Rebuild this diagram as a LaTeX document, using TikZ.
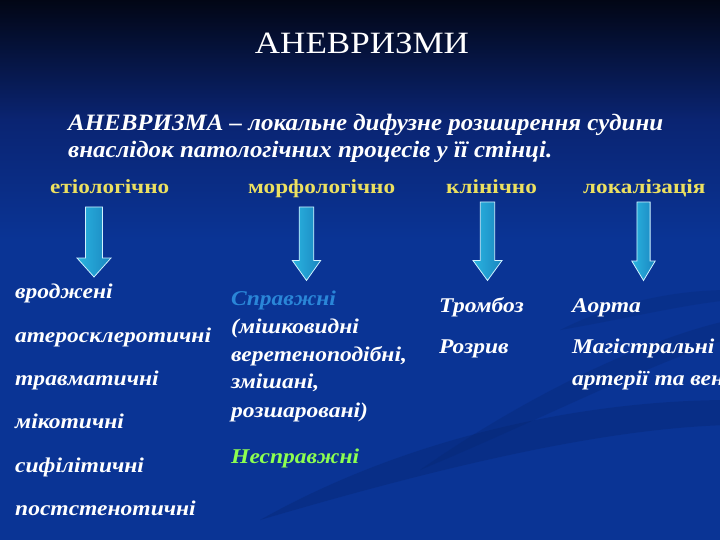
\documentclass[tikz,border=0pt]{standalone}
\usepackage{fontspec}
\setmainfont{Liberation Serif}
\newfontfamily\titlefont{Liberation Serif}[FakeStretch=1.13]
\newfontfamily\deffont{Liberation Serif}[FakeStretch=1.06]
\newfontfamily\catfont{Liberation Serif}[FakeStretch=1.16]
\newfontfamily\itemfont{Liberation Serif}[FakeStretch=1.12]
\usetikzlibrary{calc}
\definecolor{bgdark}{HTML}{020615}
\definecolor{bgmid}{HTML}{0A2472}
\definecolor{bgblue}{HTML}{0A3495}
\definecolor{catyellow}{HTML}{ECE060}
\definecolor{arrowL}{HTML}{2AB4E0}
\definecolor{arrowR}{HTML}{1A86C0}
\definecolor{arrowEdge}{HTML}{CFF2FF}
\definecolor{truecol}{HTML}{2A86D8}
\definecolor{falsecol}{HTML}{8CFF50}
\definecolor{swoosh}{HTML}{06256E}
\tikzset{
  titletext/.style={anchor=base, inner sep=0pt, text=white, font=\titlefont\fontsize{31}{31}\selectfont},
  deftext/.style={anchor=base west, inner sep=0pt, text=white, font=\deffont\fontsize{23.5}{23.5}\selectfont\bfseries\itshape},
  cattext/.style={anchor=base west, inner sep=0pt, text=catyellow, font=\catfont\fontsize{20}{20}\selectfont\bfseries},
  itemtext/.style={anchor=base west, inner sep=0pt, text=white, font=\itemfont\fontsize{21}{21}\selectfont\bfseries\itshape},
  blockarrow/.style={draw=arrowEdge, line width=0.8pt, left color=arrowL, right color=arrowR, line join=miter},
}
\newcommand{\blockarrowat}[7]{% name, cx, top, headtop, tip, shaft half, head half
  \coordinate (#1) at (#2,#5);
  \path[blockarrow] (#2-#6,#3) -- (#2+#6,#3) -- (#2+#6,#4) -- (#2+#7,#4) -- (#2,#5)
     -- (#2-#7,#4) -- (#2-#6,#4) -- cycle;}
\begin{document}
\begin{tikzpicture}[x=1pt,y=-1pt]
\useasboundingbox (0,0) rectangle (720,540);
\begin{scope}
\clip (0,0) rectangle (720,540);
\fill[bgblue] (0,0) rectangle (720,540);
\shade[top color=bgdark, bottom color=bgmid] (0,0) rectangle (720,120);
\shade[top color=bgmid, bottom color=bgblue] (0,119.5) rectangle (720,240);
% faint darker swooshes
\fill[swoosh, opacity=0.35] (260,520) .. controls (420,430) and (600,400) .. (730,400)
   -- (730,425) .. controls (600,428) and (430,470) .. (260,520) -- cycle;
\fill[swoosh, opacity=0.3] (420,470) .. controls (520,400) and (640,340) .. (730,320)
   -- (730,338) .. controls (640,368) and (540,420) .. (420,470) -- cycle;
\fill[swoosh, opacity=0.25] (560,330) .. controls (620,300) and (680,290) .. (730,290)
   -- (730,300) .. controls (680,305) and (620,320) .. (560,330) -- cycle;

\node[titletext] (title) at (362,54) {АНЕВРИЗМИ};
\node[deftext] (def1) at (68,131) {АНЕВРИЗМА – локальне дифузне розширення судини};
\node[deftext] (def2) at (68,158) {внаслідок патологічних процесів у її стінці.};

\node[cattext] (c1) at (50,194) {етіологічно};
\node[cattext] (c2) at (248,194) {морфологічно};
\node[cattext] (c3) at (446,194) {клінічно};
\node[cattext] (c4) at (583,194) {локалізація};

\blockarrowat{a1}{94}{207}{258}{277}{8.5}{17}
\blockarrowat{a2}{306.5}{207}{260.5}{280.5}{7.3}{14.2}
\blockarrowat{a3}{487.5}{202}{260.5}{280.5}{7.2}{14.5}
\blockarrowat{a4}{643.5}{202}{261}{280.5}{6.6}{11.7}

\node[itemtext] (e1) at (15,298) {вроджені};
\node[itemtext] (e2) at (15,342) {атеросклеротичні};
\node[itemtext] (e3) at (15,385) {травматичні};
\node[itemtext] (e4) at (15,428) {мікотичні};
\node[itemtext] (e5) at (15,472) {сифілітичні};
\node[itemtext] (e6) at (15,515) {постстенотичні};

\node[itemtext, text=truecol] (m1) at (231,305) {Справжні};
\node[itemtext] (m2) at (231,333) {(мішковидні};
\node[itemtext] (m3) at (231,361) {веретеноподібні,};
\node[itemtext] (m4) at (231,388) {змішані,};
\node[itemtext] (m5) at (231,417) {розшаровані)};
\node[itemtext, text=falsecol] (m6) at (231,463) {Несправжні};

\node[itemtext] (k1) at (439,312) {Тромбоз};
\node[itemtext] (k2) at (439,353) {Розрив};

\node[itemtext] (l1) at (572,312) {Аорта};
\node[itemtext] (l2) at (572,353) {Магістральні};
\node[itemtext] (l3) at (572,385) {артерії та вени};
\end{scope}
\end{tikzpicture}
\end{document}
